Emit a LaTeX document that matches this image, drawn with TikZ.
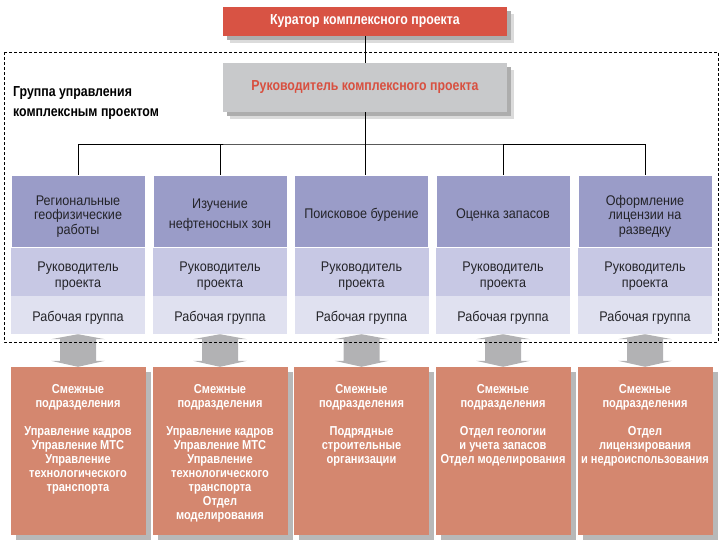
\documentclass[tikz,border=0pt]{standalone}
\usepackage{fontspec}
\setmainfont{Liberation Sans}
\newfontfamily\condfont[FakeStretch=0.85]{Liberation Sans}
\newfontfamily\cellfont[FakeStretch=0.9]{Liberation Sans}
\usetikzlibrary{positioning, calc, shadows}
\definecolor{curatorred}{RGB}{216,83,68}
\definecolor{leadergray}{RGB}{200,201,203}
\definecolor{leadertext}{RGB}{216,80,64}
\definecolor{dirblue}{RGB}{154,156,200}
\definecolor{headlilac}{RGB}{199,200,228}
\definecolor{teamlilac}{RGB}{224,225,240}
\definecolor{unitsalmon}{RGB}{212,135,111}
\definecolor{arrowgray}{RGB}{178,178,180}
\definecolor{celltext}{RGB}{35,35,40}
\tikzset{
    softshadow/.style={drop shadow={shadow xshift=7pt, shadow yshift=-7pt, fill=black!14, opacity=1}, drop shadow={shadow xshift=4pt, shadow yshift=-4pt, fill=black!32, opacity=1}},
    curator/.style={rectangle, fill=curatorred, minimum width=284pt, minimum height=29pt, inner sep=0pt, text=white, font=\condfont\bfseries\fontsize{14.5}{16}\selectfont, softshadow},
    leader/.style={rectangle, fill=leadergray, minimum width=284pt, minimum height=49pt, inner sep=0pt, text=leadertext, font=\condfont\bfseries\fontsize{14.5}{16}\selectfont, softshadow},
    grouplabel/.style={align=left, inner sep=0pt, font=\condfont\bfseries\fontsize{14.5}{14}\selectfont},
    dirbox/.style={rectangle, fill=dirblue, draw=white, line width=0.8pt, minimum width=134pt, minimum height=72pt, inner sep=0pt, align=center, text=celltext, font=\cellfont\fontsize{14}{14.5}\selectfont, text height=18pt},
    headbox/.style={rectangle, fill=headlilac, minimum width=134pt, minimum height=48pt, inner sep=0pt, align=center, text=celltext, font=\cellfont\fontsize{14}{14.5}\selectfont, text height=35pt},
    teambox/.style={rectangle, fill=teamlilac, minimum width=134pt, minimum height=38pt, inner sep=0pt, align=center, text=celltext, font=\cellfont\fontsize{14}{14.5}\selectfont, text height=16pt},
    unitbox/.style={rectangle, fill=unitsalmon, minimum width=135pt, minimum height=168pt, inner sep=0pt, drop shadow={shadow xshift=5pt, shadow yshift=-5pt, fill=black!28, opacity=1}},
    unittext/.style={anchor=north, align=center, inner sep=0pt, text=white, font=\condfont\bfseries\fontsize{13}{14}\selectfont},
    blockarrow/.style={fill=arrowgray},
    link/.style={line width=0.9pt, black},
    grpframe/.style={line width=0.7pt, dash pattern=on 3pt off 2pt},
}
\begin{document}
\begin{tikzpicture}[x=1pt, y=-1pt]
\useasboundingbox (0,0) rectangle (723,544);
% management
\node[curator] (cur) at (365,21.5) {Куратор комплексного проекта};
\node[leader] (lead) at (365,87.5) {Руководитель комплексного проекта};
\node[grouplabel, anchor=west] (grp) at (13,103.5) {Группа управления\\[6pt]комплексным проектом};
% directions
\node[dirbox, text height=49pt] (reg) at (78,211) {Региональные\\геофизические\\работы};
\node[headbox, below=0pt of reg] (reghead) {Руководитель\\[2pt]проекта};
\node[teambox, below=0pt of reghead] (regteam) {Рабочая группа};
\node[dirbox, text height=38pt] (oil) at (220,211) {Изучение\\[5.5pt]нефтеносных зон};
\node[headbox, below=0pt of oil] (oilhead) {Руководитель\\[2pt]проекта};
\node[teambox, below=0pt of oilhead] (oilteam) {Рабочая группа};
\node[dirbox] (drill) at (361.5,211) {Поисковое бурение};
\node[headbox, below=0pt of drill] (drillhead) {Руководитель\\[2pt]проекта};
\node[teambox, below=0pt of drillhead] (drillteam) {Рабочая группа};
\node[dirbox] (res) at (503,211) {Оценка запасов};
\node[headbox, below=0pt of res] (reshead) {Руководитель\\[2pt]проекта};
\node[teambox, below=0pt of reshead] (resteam) {Рабочая группа};
\node[dirbox, text height=49pt] (lic) at (645,211) {Оформление\\лицензии на\\разведку};
\node[headbox, below=0pt of lic] (lichead) {Руководитель\\[2pt]проекта};
\node[teambox, below=0pt of lichead] (licteam) {Рабочая группа};
% related units
\node[unitbox] (regunit) at (78,451) {};
\node[unittext, below=17pt of regunit.north] (regunittext) {Смежные\\подразделения\\[14pt]Управление кадров\\Управление МТС\\Управление\\технологического\\транспорта};
\node[unitbox] (oilunit) at (220,451) {};
\node[unittext, below=17pt of oilunit.north] (oilunittext) {Смежные\\подразделения\\[14pt]Управление кадров\\Управление МТС\\Управление\\технологического\\транспорта\\Отдел\\моделирования};
\node[unitbox] (drillunit) at (361.5,451) {};
\node[unittext, below=17pt of drillunit.north] (drillunittext) {Смежные\\подразделения\\[14pt]Подрядные\\строительные\\организации};
\node[unitbox] (resunit) at (503,451) {};
\node[unittext, below=17pt of resunit.north] (resunittext) {Смежные\\подразделения\\[14pt]Отдел геологии\\и учета запасов\\Отдел моделирования};
\node[unitbox] (licunit) at (645,451) {};
\node[unittext, below=17pt of licunit.north] (licunittext) {Смежные\\подразделения\\[14pt]Отдел\\лицензирования\\и недроиспользования};
% two-way arrows
\fill[blockarrow] (regteam.south) -- ++(27,5) -- ++(-9,0) -- ($(regunit.north)+(18,-6)$) -- ++(9,0) -- (regunit.north) -- ++(-27,-6) -- ++(9,0) -- ($(regteam.south)+(-18,5)$) -- ++(-9,0) -- cycle;
\fill[blockarrow] (oilteam.south) -- ++(27,5) -- ++(-9,0) -- ($(oilunit.north)+(18,-6)$) -- ++(9,0) -- (oilunit.north) -- ++(-27,-6) -- ++(9,0) -- ($(oilteam.south)+(-18,5)$) -- ++(-9,0) -- cycle;
\fill[blockarrow] (drillteam.south) -- ++(27,5) -- ++(-9,0) -- ($(drillunit.north)+(18,-6)$) -- ++(9,0) -- (drillunit.north) -- ++(-27,-6) -- ++(9,0) -- ($(drillteam.south)+(-18,5)$) -- ++(-9,0) -- cycle;
\fill[blockarrow] (resteam.south) -- ++(27,5) -- ++(-9,0) -- ($(resunit.north)+(18,-6)$) -- ++(9,0) -- (resunit.north) -- ++(-27,-6) -- ++(9,0) -- ($(resteam.south)+(-18,5)$) -- ++(-9,0) -- cycle;
\fill[blockarrow] (licteam.south) -- ++(27,5) -- ++(-9,0) -- ($(licunit.north)+(18,-6)$) -- ++(9,0) -- (licunit.north) -- ++(-27,-6) -- ++(9,0) -- ($(licteam.south)+(-18,5)$) -- ++(-9,0) -- cycle;
% links
\coordinate (bus) at (365,144);
\draw[link] (cur) -- (lead);
\draw[link] (lead) -- (lead |- drill.north);
\draw[link] (reg.north) |- (bus) -| (lic.north);
\draw[link] (oil.north) -- (oil.north |- bus);
\draw[link] (res.north) -- (res.north |- bus);
% group frame
\draw[grpframe] (4,52) rectangle (718,342);
\end{tikzpicture}
\end{document}
